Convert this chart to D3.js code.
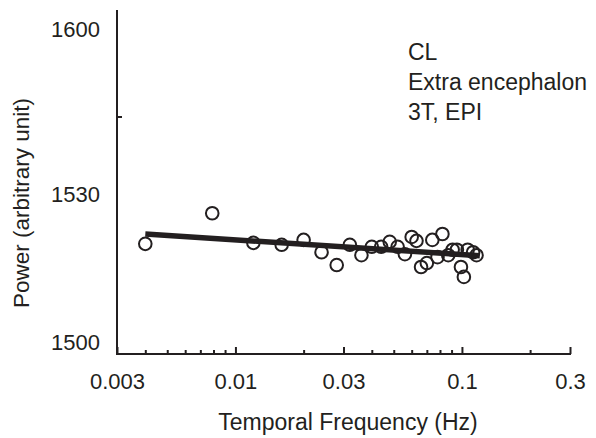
<!DOCTYPE html>
<html>
<head>
<meta charset="utf-8">
<script src="https://cdn.jsdelivr.net/npm/d3@7"></script>
<style>
  html, body { margin: 0; padding: 0; background: #fff; }
  svg { display: block; font-family: "Liberation Sans", Arial, sans-serif; }
  .tick text { fill: #231f20; font-size: 22px; }
  .tick line { stroke: #231f20; stroke-width: 2; }
</style>
</head>
<body>
<svg id="chart" width="596" height="438"></svg>
<script>
/* Power vs temporal frequency, log x axis, broken-ish y axis. */

const freq = [
  0.004, 0.0079, 0.012, 0.016, 0.020, 0.024, 0.028, 0.032, 0.036, 0.040,
  0.044, 0.048, 0.052, 0.056, 0.060, 0.063, 0.066, 0.070, 0.074, 0.078,
  0.082, 0.087, 0.091, 0.095, 0.099, 0.102, 0.106, 0.112, 0.116
];
const power = [
  1520.0, 1526.2, 1520.2, 1519.8, 1520.8, 1518.3, 1515.7, 1519.8, 1517.7, 1519.4,
  1519.4, 1520.4, 1519.4, 1517.9, 1521.4, 1520.6, 1515.3, 1516.1, 1520.8, 1517.3,
  1522.0, 1517.7, 1518.8, 1518.8, 1515.3, 1513.3, 1518.8, 1518.3, 1517.7
];
const fitFreq  = [0.004, 0.12];
const fitPower = [1522.0, 1517.6];

const xMajor = [0.003, 0.01, 0.03, 0.1, 0.3];
const xMinor = [0.004, 0.005, 0.006, 0.007, 0.008, 0.009, 0.02,
                0.04, 0.05, 0.06, 0.07, 0.08, 0.09, 0.2];
const yLabels = [1500, 1530, 1600];
const yMarks  = [1563];
const notes = ["CL", "Extra encephalon", "3T, EPI"];

const INK = "#231f20";
const svg = d3.select("#chart");

const x = d3.scaleLog().domain([0.003, 0.3]).range([117, 570]);
/* the printed y axis is not evenly spaced, so map piecewise */
const y = d3.scaleLinear().domain([1500, 1530, 1600]).range([342.5, 194.5, 29]);

const AXIS_Y = 354;

/* ---------- AXES ---------- */

svg.append("line")
  .attr("x1", 117).attr("x2", 117).attr("y1", 10).attr("y2", AXIS_Y + 1)
  .attr("stroke", INK).attr("stroke-width", 2);
svg.append("line")
  .attr("x1", 116).attr("x2", 571).attr("y1", AXIS_Y).attr("y2", AXIS_Y)
  .attr("stroke", INK).attr("stroke-width", 2);

const xAxis = svg.append("g")
  .attr("transform", "translate(0," + AXIS_Y + ")")
  .call(d3.axisBottom(x).tickValues(xMajor).tickSize(-7).tickPadding(19)
    .tickFormat(function (d) { return String(d); }));
xAxis.select(".domain").remove();

const xMinorAxis = svg.append("g")
  .attr("transform", "translate(0," + AXIS_Y + ")")
  .call(d3.axisBottom(x).tickValues(xMinor).tickSize(-4).tickFormat(""));
xMinorAxis.select(".domain").remove();

const yAxis = svg.append("g")
  .attr("transform", "translate(117,0)")
  .call(d3.axisLeft(y).tickValues(yLabels).tickSize(0).tickPadding(17)
    .tickFormat(d3.format("d")));
yAxis.select(".domain").remove();

const yMarkAxis = svg.append("g")
  .attr("transform", "translate(117,0)")
  .call(d3.axisRight(y).tickValues(yMarks).tickSize(5).tickFormat(""));
yMarkAxis.select(".domain").remove();

/* ---------- TITLES ---------- */

svg.append("text")
  .attr("x", 348).attr("y", 430)
  .attr("text-anchor", "middle")
  .attr("fill", INK).attr("font-size", 23)
  .text("Temporal Frequency (Hz)");

svg.append("text")
  .attr("transform", "translate(29,203) rotate(-90)")
  .attr("text-anchor", "middle")
  .attr("fill", INK).attr("font-size", 22.5)
  .text("Power (arbitrary unit)");

svg.append("g").selectAll("text")
  .data(notes)
  .enter()
  .append("text")
  .attr("x", 408)
  .attr("y", function (d, i) { return 60 + i * 30; })
  .attr("fill", INK).attr("font-size", 23)
  .text(function (d) { return d; });

/* ---------- DATA ---------- */

const fit = fitFreq.map(function (f, i) { return [f, fitPower[i]]; });
svg.append("path")
  .datum(fit)
  .attr("fill", "none")
  .attr("stroke", INK)
  .attr("stroke-width", 5.5)
  .attr("d", d3.line()
    .x(function (d) { return x(d[0]); })
    .y(function (d) { return y(d[1]); }));

svg.append("g").selectAll("circle")
  .data(freq.map(function (f, i) { return [f, power[i]]; }))
  .enter()
  .append("circle")
  .attr("cx", function (d) { return x(d[0]); })
  .attr("cy", function (d) { return y(d[1]); })
  .attr("r", 6.3)
  .attr("fill", "none")
  .attr("stroke", INK)
  .attr("stroke-width", 2);
</script>
</body>
</html>
